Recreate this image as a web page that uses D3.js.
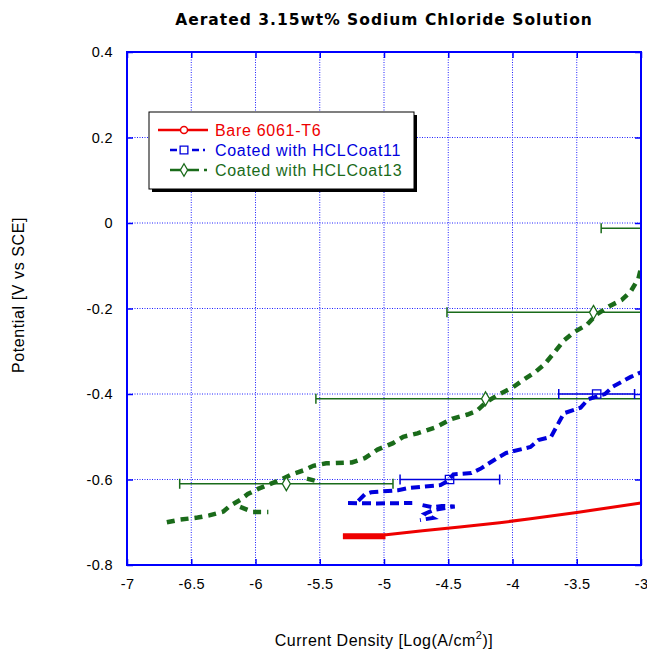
<!DOCTYPE html>
<html><head><meta charset="utf-8">
<script src="https://cdn.jsdelivr.net/npm/d3@7/dist/d3.min.js"></script>
<style>body{margin:0;background:#fff}svg{display:block;font-family:"Liberation Sans",Arial,sans-serif}</style>
</head><body><svg id="c" width="647" height="656"></svg>
<script>
const xTicks = [-7,-6.5,-6,-5.5,-5,-4.5,-4,-3.5,-3];
const yTicks = [0.4,0.2,0,-0.2,-0.4,-0.6,-0.8];
const seriesNames = ["Bare 6061-T6","Coated with HCLCoat11","Coated with HCLCoat13"];
const seriesColors = ["#ee0000","#0000dd","#1a6b1a"];

// Bare 6061-T6 (null = break)
const redX = [-5.32,-5.00,-5.00,-5.32,null,-5.32,-5.00,-4.70,-4.41,-4.10,-3.86,-3.50,-3.25,-3.00];
const redY = [-0.736,-0.736,-0.729,-0.729,null,-0.733,-0.730,-0.720,-0.711,-0.701,-0.692,-0.677,-0.666,-0.655];

// Coated with HCLCoat11
const blueX = [-5.28,-5.05,-4.78,null,-4.70,-4.62,-4.55,-4.45,-4.62,-4.68,-4.62,-4.72,null,
  -5.20,-5.15,-5.10,-4.89,-4.81,-4.56,-4.50,-4.46,-4.32,-4.25,-4.12,-4.05,-3.86,-3.80,-3.70,-3.66,-3.60,-3.47,-3.41,-3.28,-3.22,-3.08,-3.00];
const blueY = [-0.655,-0.656,-0.655,null,-0.660,-0.665,-0.662,-0.663,-0.672,-0.680,-0.690,-0.695,null,
  -0.650,-0.635,-0.630,-0.625,-0.620,-0.613,-0.603,-0.588,-0.585,-0.575,-0.550,-0.538,-0.524,-0.508,-0.500,-0.478,-0.445,-0.432,-0.412,-0.400,-0.383,-0.360,-0.349];

// Coated with HCLCoat13
const greenX = [-6.69,-6.59,-6.45,-6.36,-6.25,-6.20,-6.12,-6.06,-5.98,-5.90,-5.80,-5.72,-5.62,-5.55,-5.45,-5.25,-5.15,-5.05,-4.93,-4.85,-4.74,-4.60,-4.47,-4.35,-4.28,-4.20,-4.10,-4.00,-3.92,-3.82,-3.75,-3.68,-3.60,-3.52,-3.42,-3.35,-3.25,-3.15,-3.08,-3.02,-3.00,
  null,-6.12,-6.02,-5.90,null,-5.60,-5.52];
const greenY = [-0.700,-0.694,-0.689,-0.684,-0.675,-0.662,-0.648,-0.634,-0.622,-0.612,-0.600,-0.588,-0.578,-0.568,-0.562,-0.560,-0.550,-0.530,-0.515,-0.500,-0.492,-0.478,-0.458,-0.448,-0.440,-0.418,-0.400,-0.385,-0.368,-0.348,-0.330,-0.305,-0.275,-0.255,-0.238,-0.215,-0.195,-0.180,-0.160,-0.130,-0.105,
  null,-0.664,-0.676,-0.676,null,-0.598,-0.604];

// error bars
const blueErrY = [-0.600,-0.400];
const blueErrLo = [-4.875,-3.64];
const blueErrMid = [-4.49,-3.345];
const blueErrHi = [-4.10,-3.05];
const greenErrY = [-0.610,-0.411,-0.209,-0.012];
const greenErrLo = [-6.59,-5.53,-4.51,-3.31];
const greenErrMid = [-5.76,-4.21,-3.37,-2.85];
const greenErrHi = [-4.93,-2.89,-2.23,-2.40];

const W=647,H=656, L=127,R=641,T=52,B=565;
const svg=d3.select("#c");
const x=d3.scaleLinear().domain([-7,-3]).range([L,R]);
const y=d3.scaleLinear().domain([-0.8,0.4]).range([B,T]);

svg.append("defs").append("clipPath").attr("id","clip").append("rect")
  .attr("x",L).attr("y",T).attr("width",R-L).attr("height",B-T);

// grid
const g=svg.append("g");
g.selectAll(".gx").data(xTicks.slice(1,-1)).join("line")
  .attr("x1",d=>x(d)).attr("x2",d=>x(d)).attr("y1",T).attr("y2",B)
  .attr("stroke","#2020ff").attr("stroke-width",1).attr("stroke-dasharray","1,1.5");
g.selectAll(".gy").data(yTicks.slice(1,-1)).join("line")
  .attr("y1",d=>y(d)).attr("y2",d=>y(d)).attr("x1",L).attr("x2",R)
  .attr("stroke","#2020ff").attr("stroke-width",1).attr("stroke-dasharray","1,1.5");

// axes
const ax=d3.axisBottom(x).tickValues(xTicks).tickSize(-6).tickPadding(14).tickFormat(d=>String(d));
const axT=d3.axisTop(x).tickValues(xTicks).tickSize(-6).tickFormat("");
const ay=d3.axisLeft(y).tickValues(yTicks).tickSize(-6).tickPadding(14).tickFormat(d=>String(Math.round(d*10)/10));
const ayR=d3.axisRight(y).tickValues(yTicks).tickSize(-6).tickFormat("");
function styleAx(sel){sel.select(".domain").remove();sel.selectAll("line").attr("stroke","#0000ff").attr("stroke-width",1.5);
  sel.selectAll("text").attr("fill","#000").style("font-size","14.5px").style("letter-spacing","0.4px").style("font-family","'Liberation Sans',Arial,sans-serif");}
svg.append("g").attr("transform",`translate(0,${B})`).call(ax).call(styleAx);
svg.append("g").attr("transform",`translate(0,${T})`).call(axT).call(styleAx);
svg.append("g").attr("transform",`translate(${L},0)`).call(ay).call(styleAx);
svg.append("g").attr("transform",`translate(${R},0)`).call(ayR).call(styleAx);

// data
const plot=svg.append("g").attr("clip-path","url(#clip)");
function pts(xs,ys){return xs.map((v,i)=>[v,ys[i]]);}
const line=d3.line().defined(d=>d[0]!==null&&d[1]!==null).x(d=>x(d[0])).y(d=>y(d[1]));

// error bars
function errBars(ys,lo,mid,hi,color){
  ys.forEach((yy,i)=>{
    plot.append("line").attr("x1",x(lo[i])).attr("x2",x(hi[i])).attr("y1",y(yy)).attr("y2",y(yy))
      .attr("stroke",color).attr("stroke-width",1.5);
    [lo[i],hi[i]].forEach(e=>plot.append("line").attr("x1",x(e)).attr("x2",x(e)).attr("y1",y(yy)-5).attr("y2",y(yy)+5)
      .attr("stroke",color).attr("stroke-width",1.5));
  });
}
errBars(greenErrY,greenErrLo,greenErrMid,greenErrHi,seriesColors[2]);
errBars(blueErrY,blueErrLo,blueErrMid,blueErrHi,seriesColors[1]);

plot.append("path").datum(pts(redX,redY)).attr("d",line).attr("fill","none")
  .attr("stroke",seriesColors[0]).attr("stroke-width",3);
plot.append("path").datum(pts(blueX,blueY)).attr("d",line).attr("fill","none")
  .attr("stroke",seriesColors[1]).attr("stroke-width",4).attr("stroke-dasharray","9,5");
plot.append("path").datum(pts(greenX,greenY)).attr("d",line).attr("fill","none")
  .attr("stroke",seriesColors[2]).attr("stroke-width",4.5).attr("stroke-dasharray","8,6");

// markers
const sq=d3.symbol().type(d3.symbolSquare).size(70);
const di=d3.symbol().type(d3.symbolDiamond).size(55);
blueErrMid.forEach((m,i)=>plot.append("path").attr("d",sq).attr("transform",`translate(${x(m)},${y(blueErrY[i])})`)
  .attr("fill","none").attr("stroke",seriesColors[1]).attr("stroke-width",1.3));
greenErrMid.forEach((m,i)=>plot.append("path").attr("d",di).attr("transform",`translate(${x(m)},${y(greenErrY[i])})`)
  .attr("fill","#fff").attr("stroke",seriesColors[2]).attr("stroke-width",1.3));

// border
svg.append("rect").attr("x",L).attr("y",T).attr("width",R-L).attr("height",B-T)
  .attr("fill","none").attr("stroke","#0000ff").attr("stroke-width",2);

// legend
const lg=svg.append("g");
lg.append("rect").attr("x",152).attr("y",115).attr("width",265).attr("height",77).attr("fill","#000");
lg.append("rect").attr("x",149).attr("y",112).attr("width",265).attr("height",77).attr("fill","#fff").attr("stroke","#000").attr("stroke-width",1);
const rows=[130,150,170];
// red
lg.append("line").attr("x1",158).attr("x2",208).attr("y1",rows[0]).attr("y2",rows[0]).attr("stroke",seriesColors[0]).attr("stroke-width",2.5);
lg.append("circle").attr("cx",184).attr("cy",rows[0]).attr("r",3.5).attr("fill","#fff").attr("stroke",seriesColors[0]).attr("stroke-width",1.5);
// blue
lg.append("line").attr("x1",170).attr("x2",205).attr("y1",rows[1]).attr("y2",rows[1]).attr("stroke",seriesColors[1]).attr("stroke-width",2.5).attr("stroke-dasharray","7,4");
lg.append("path").attr("d",d3.symbol().type(d3.symbolSquare).size(60)).attr("transform",`translate(184,${rows[1]})`).attr("fill","#fff").attr("stroke",seriesColors[1]).attr("stroke-width",1.3);
// green
lg.append("line").attr("x1",170).attr("x2",207).attr("y1",rows[2]).attr("y2",rows[2]).attr("stroke",seriesColors[2]).attr("stroke-width",2.5).attr("stroke-dasharray","12,5");
lg.append("path").attr("d",d3.symbol().type(d3.symbolDiamond).size(45)).attr("transform",`translate(184,${rows[2]})`).attr("fill","#fff").attr("stroke",seriesColors[2]).attr("stroke-width",1.3);
seriesNames.forEach((n,i)=>lg.append("text").attr("x",215).attr("y",rows[i]+5.5).attr("fill",seriesColors[i])
  .style("font-size","16px").style("letter-spacing","0.7px").text(n));

// titles
svg.append("text").attr("x",384).attr("y",25).attr("text-anchor","middle").style("font-family","'DejaVu Sans',sans-serif")
  .style("font-size","15.5px").style("font-weight","bold").style("letter-spacing","1px")
  .text("Aerated 3.15wt% Sodium Chloride Solution");
const xl=svg.append("text").attr("x",384).attr("y",646).attr("text-anchor","middle").style("font-size","16px").style("letter-spacing","0.5px");
xl.append("tspan").text("Current Density [Log(A/cm");
xl.append("tspan").attr("dy",-7).style("font-size","11px").text("2");
xl.append("tspan").attr("dy",7).text(")]");
svg.append("text").attr("transform","translate(24,295) rotate(-90)").attr("text-anchor","middle").style("font-size","16px")
  .style("letter-spacing","0.6px").text("Potential [V vs SCE]");
</script></body></html>
